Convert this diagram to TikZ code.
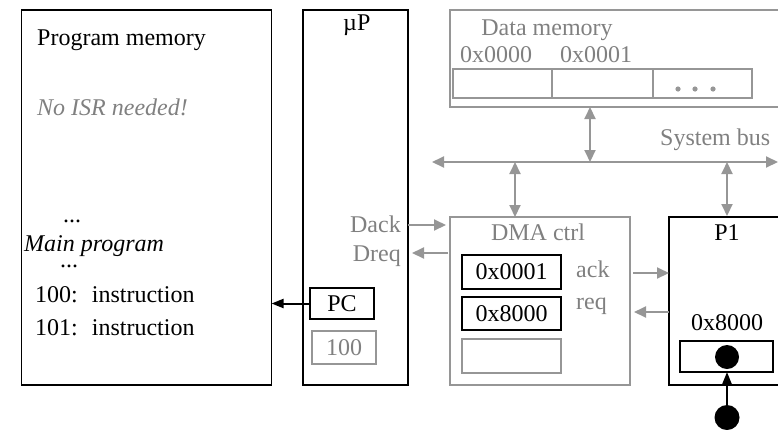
\documentclass[tikz,border=0pt]{standalone}
\usepackage{fontspec}
\setmainfont{Liberation Serif}
\usepackage{tikz}
\usetikzlibrary{arrows.meta,calc}
\definecolor{txtgray}{RGB}{128,128,128}
\definecolor{lngray}{RGB}{150,150,150}
\tikzset{
  box/.style={draw,line width=1.5pt,inner sep=0pt,outer sep=0pt},
  gbox/.style={box,draw=lngray},
  txt/.style={inner sep=0pt,anchor=base west},
  gtxt/.style={txt,text=txtgray},
  garr/.style={draw=lngray,line width=2pt,-{Triangle[length=12pt,width=11pt]}},
  barr/.style={line width=2pt,-{Triangle[length=12pt,width=9pt]}}
}

\begin{document}
\begin{tikzpicture}[x=1pt,y=-1pt,font=\fontsize{24}{28}\selectfont]
\useasboundingbox (0,0) rectangle (778,429);
\clip (0,0) rectangle (778,429);

% program memory
\node[box,minimum width=250,minimum height=375] (progmem) at (146.5,197.5) {};
\node[txt] (pmtitle) at (37,45) {Program memory};
\node[gtxt,font=\fontsize{24}{28}\selectfont\itshape] (noisr) at (37,115) {No ISR needed!};
\node[txt] (dots1) at (63,222) {...};
\node[txt,font=\fontsize{24}{28}\selectfont\itshape] (mainprog) at (24,251) {Main program};
\node[txt] (dots2) at (60,267) {...};
\node[txt] (ins1) at (35,302) {100:\hspace{14pt}instruction};
\node[txt] (ins2) at (35,335) {101:\hspace{14pt}instruction};

% micro processor
\node[box,minimum width=105,minimum height=375] (up) at (355.5,197.5) {};
\node[txt] (uptitle) at (343,30) {µP};
\node[gtxt,anchor=base east] (dack) at (401,232) {Dack};
\node[gtxt,anchor=base east] (dreq) at (401,261) {Dreq};
\node[box,minimum width=64,minimum height=31] (pc) at (342,303.5) {PC};
\node[gbox,minimum width=64,minimum height=33,text=txtgray] (pcval) at (344,347.5) {100};
\draw[barr] (pc.west) -- (progmem.east |- pc.west);

% data memory
\node[gbox,minimum width=350,minimum height=97] (datamem) at (625,58.5) {};
\node[gtxt,anchor=base] (dmtitle) at (547,35) {Data memory};
\node[gtxt] (addr0) at (460,62) {0x0000};
\node[gtxt] (addr1) at (560,62) {0x0001};
\node[gbox,minimum width=99,minimum height=29] (cell1) at (502.5,83.5) {};
\node[gbox,minimum width=101,minimum height=29] (cell2) at (602.5,83.5) {};
\node[gbox,minimum width=99,minimum height=29] (cell3) at (702.5,83.5) {};
\foreach \dx in {678,695,713}
  \fill[lngray] (\dx,89) circle (2.6);

% system bus
\coordinate (busL) at (432,162);
\coordinate (busR) at (778,162);
\draw[garr,{Triangle[length=12pt,width=11pt]}-{Triangle[length=12pt,width=11pt]}] (busL) -- (busR);
\node[gtxt] (buslbl) at (660,145) {System bus};

% dma controller
\node[gbox,minimum width=180,minimum height=168] (dma) at (540,301) {};
\node[gtxt,anchor=base] (dmatitle) at (538,240) {DMA ctrl};
\node[box,minimum width=99,minimum height=34] (reg1) at (511.5,272) {0x0001};
\node[box,minimum width=99,minimum height=33] (reg2) at (511.5,313.5) {0x8000};
\node[gbox,minimum width=99,minimum height=34] (reg3) at (511.5,356) {};
\node[gtxt] (ack) at (576,277) {ack};
\node[gtxt] (req) at (576,309) {req};

% peripheral
\node[box,minimum width=131,minimum height=168] (p1) at (734.5,301) {};
\node[txt,anchor=base] (p1title) at (727,240) {P1};
\node[txt,anchor=base] (p1addr) at (727,330) {0x8000};
\node[box,minimum width=93,minimum height=31] (p1reg) at (726.5,356.5) {};
\fill (727,357) circle (12);
\node[circle,fill,inner sep=0pt,minimum size=25] (din) at (727,417.5) {};
\draw[barr] (din.north) -- (din.north |- p1reg.south);

% bus connections
\draw[garr,{Triangle[length=12pt,width=11pt]}-{Triangle[length=12pt,width=11pt]}] (590,107) -- (590,162);
\draw[garr,{Triangle[length=12pt,width=11pt]}-{Triangle[length=12pt,width=11pt]}] (busL -| dma.north) ++(-25,0) -- ++(0,55);
\draw[garr,{Triangle[length=12pt,width=11pt]}-{Triangle[length=12pt,width=11pt]}] (727,162) -- (727,216);

% handshake lines
\draw[garr] (up.east |- 0,225) -- ([xshift=-4pt]dma.west |- 0,225);
\draw[garr] ([xshift=-2pt]dma.west |- 0,253) -- ([xshift=4pt]up.east |- 0,253);
\draw[garr] ([xshift=3pt]dma.east |- 0,273) -- (p1.west |- 0,273);
\draw[garr] (p1.west |- 0,312) -- ([xshift=4pt]dma.east |- 0,312);

\end{tikzpicture}
\end{document}
